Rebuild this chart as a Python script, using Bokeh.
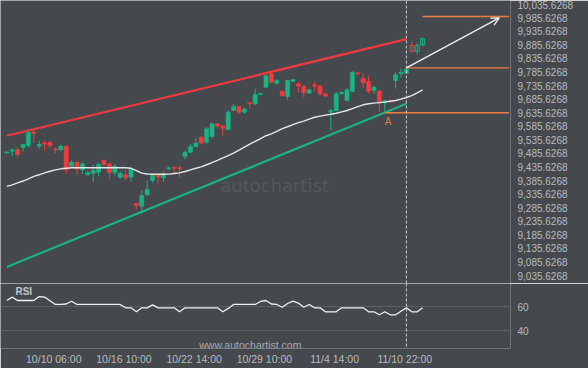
from bokeh.plotting import figure
from bokeh.layouts import column
from bokeh.models import (Range1d, FixedTicker, NumeralTickFormatter, Span,
                          Arrow, OpenHead, Label, ColumnDataSource)
from bokeh.embed import file_html
from bokeh.resources import INLINE

# ---------------- data ----------------
open_ = [9487.3, 9493.9, 9500.2, 9507.6, 9514.9, 9564.7, 9512.4, 9524.1, 9527.1, 9502.0,
         9499.1, 9512.4, 9438.6, 9453.4, 9425.4, 9406.9, 9412.8, 9416.5, 9459.6, 9447.5,
         9414.3, 9398.1, 9408.0, 9398.1, 9302.2, 9291.2, 9333.2, 9385.9, 9406.9, 9395.9,
         9429.0, 9434.9, 9432.7, 9474.4, 9490.2, 9511.2, 9545.5, 9527.1, 9548.1, 9594.9,
         9587.5, 9573.9, 9643.9, 9658.7, 9637.7, 9672.3, 9668.6, 9704.0, 9729.8, 9779.2,
         9744.6, 9713.9, 9695.5, 9751.9, 9742.4, 9733.5, 9707.7, 9738.7, 9733.5, 9705.5,
         9637.7, 9643.9, 9705.5, 9680.8, 9713.9, 9782.9, 9763.0, 9750.8, 9717.7, 9715.8,
         9674.5, 9679.7, 9754.5, 9779.2, 9781.4, 9883.5, 9862.5, 9886.1]
high = [9492.8, 9503.9, 9507.6, 9518.6, 9566.5, 9572.8, 9533.4, 9533.4, 9530.8, 9508.7,
        9518.6, 9514.9, 9459.6, 9455.9, 9452.3, 9422.8, 9444.9, 9451.2, 9465.9, 9448.6,
        9447.5, 9419.1, 9426.5, 9434.9, 9303.7, 9349.1, 9385.9, 9410.6, 9408.0, 9419.1,
        9438.6, 9436.0, 9441.2, 9496.5, 9521.2, 9541.8, 9549.2, 9582.4, 9599.7, 9596.0,
        9588.7, 9643.9, 9668.6, 9659.5, 9653.9, 9674.5, 9723.9, 9709.2, 9776.6, 9785.1,
        9760.8, 9720.2, 9757.1, 9760.8, 9748.3, 9736.1, 9725.0, 9748.3, 9737.9, 9706.6,
        9651.3, 9711.4, 9713.9, 9726.1, 9788.8, 9784.0, 9780.3, 9772.9, 9736.1, 9719.5,
        9682.6, 9684.5, 9785.1, 9797.6, 9801.3, 9898.3, 9892.0, 9913.0]
low = [9485.4, 9474.4, 9470.7, 9492.8, 9507.6, 9523.4, 9502.8, 9496.5, 9503.9, 9486.5,
       9492.8, 9410.6, 9433.8, 9408.0, 9410.6, 9404.4, 9382.2, 9400.7, 9438.6, 9388.5,
       9404.4, 9392.2, 9385.9, 9382.2, 9279.0, 9269.8, 9330.6, 9378.5, 9370.1, 9382.2,
       9422.8, 9412.8, 9398.1, 9463.3, 9488.0, 9508.7, 9518.6, 9521.2, 9540.7, 9577.6,
       9551.8, 9570.2, 9641.4, 9629.2, 9631.8, 9650.2, 9662.4, 9699.2, 9727.6, 9744.6,
       9739.8, 9695.5, 9683.4, 9748.3, 9710.3, 9693.7, 9705.5, 9713.9, 9697.4, 9693.0,
       9570.2, 9641.4, 9702.9, 9678.2, 9711.4, 9772.9, 9727.6, 9706.6, 9705.5, 9638.4,
       9635.6, 9673.4, 9725.0, 9765.6, 9779.2, 9857.7, 9850.4, 9879.8]
close = [9491.0, 9499.1, 9481.8, 9518.6, 9562.6, 9559.2, 9518.6, 9520.5, 9513.8, 9498.3,
         9512.4, 9425.4, 9453.4, 9429.0, 9447.5, 9414.3, 9422.8, 9444.9, 9444.9, 9414.3,
         9438.6, 9412.8, 9395.9, 9426.5, 9293.8, 9330.6, 9352.7, 9404.4, 9398.1, 9410.6,
         9432.7, 9431.3, 9429.0, 9490.2, 9511.2, 9523.4, 9523.4, 9576.5, 9594.9, 9586.1,
         9578.7, 9637.7, 9658.7, 9637.7, 9648.7, 9668.6, 9702.9, 9707.7, 9772.9, 9748.3,
         9754.5, 9698.1, 9754.5, 9758.2, 9733.5, 9709.2, 9720.2, 9733.5, 9705.5, 9696.6,
         9643.9, 9705.5, 9711.4, 9720.2, 9785.1, 9779.2, 9746.0, 9715.1, 9729.8, 9677.1,
         9680.8, 9676.0, 9775.5, 9785.1, 9797.6, 9862.5, 9883.5, 9908.2]
moving_avg = [9364, 9370, 9377, 9384, 9392, 9401, 9407, 9414, 9420, 9425,
              9429, 9431, 9433, 9433, 9433, 9433, 9433, 9433, 9433, 9433,
              9433, 9433, 9433, 9431, 9422, 9413, 9410, 9409, 9409, 9409,
              9409.5, 9411.5, 9414, 9419, 9425, 9431, 9436, 9444, 9452, 9460,
              9469, 9478, 9487, 9498, 9509, 9520, 9530, 9540, 9551, 9558,
              9567, 9577, 9584, 9592, 9599, 9605, 9612, 9619, 9623, 9627,
              9630, 9634, 9639, 9644, 9651, 9658, 9665, 9669, 9671, 9673,
              9675, 9678, 9681, 9686, 9692, 9699, 9709, 9720]
rsi = [65.0, 67.8, 65.0, 65.0, 65.0, 65.0, 68.3, 67.9, 64.8, 61.7,
       61.7, 62.1, 64.4, 61.7, 61.7, 61.7, 61.7, 61.7, 61.7, 61.7,
       61.7, 61.7, 58.9, 58.9, 55.6, 58.9, 58.9, 61.4, 58.9, 58.9,
       58.9, 58.9, 55.6, 58.9, 58.9, 58.9, 58.9, 58.9, 58.9, 58.9,
       55.6, 58.4, 61.7, 61.7, 61.7, 61.7, 61.7, 64.2, 65.0, 62.1,
       61.7, 59.4, 62.5, 64.4, 62.9, 59.4, 61.7, 58.9, 58.9, 55.6,
       55.6, 55.6, 58.9, 58.9, 58.9, 58.9, 58.9, 55.6, 55.6, 53.1,
       55.6, 53.1, 53.1, 56.0, 58.9, 55.6, 55.6, 58.9]
n_closed = 75                      # candles up to the breakout; the rest are drawn hollow

channel_index = [0, 74]
channel_upper = [9551.0, 9906.8]
channel_lower = [9067.4, 9668.6]

level_price = [9990.4, 9801.3, 9635.6]
level_start = [77, 74, 70]
level_end = 93

forecast_index = [74, 91.2]
forecast_price = [9801.3, 9985.6]

point_a_index = 70
point_a_price = 9635.6

price_ticks = [9035.6268 + 50 * k for k in range(21)]
rsi_ticks = [40, 60]
tick_index = [8.7, 21.7, 34.7, 47.7, 60.7, 73.7]
tick_labels = ["10/10 06:00", "10/16 10:00", "10/22 14:00", "10/29 10:00",
               "11/4 14:00", "11/10 22:00"]

# ---------------- styles ----------------
BG = "#45484d"
UP = "#1bb383"
DOWN = "#f23b3e"
ORANGE = "#ef7b3e"
LABEL = "#babcbf"
FONT = "Liberation Sans"

idx = list(range(len(close)))
colors = [UP if c >= o else DOWN for o, c in zip(open_, close)]
tops = [max(o, c) for o, c in zip(open_, close)]
bots = [min(o, c) for o, c in zip(open_, close)]

def part(sl):
    return ColumnDataSource(dict(x=idx[sl], top=tops[sl], bottom=bots[sl],
                                 high=high[sl], low=low[sl], color=colors[sl]))

src_closed = part(slice(0, n_closed))
src_future = part(slice(n_closed, None))

xr = Range1d(-1.1667, 93.278)


def style_axis(ax, size):
    ax.axis_line_color = None
    ax.major_tick_line_color = None
    ax.minor_tick_line_color = None
    ax.major_tick_out = 0
    ax.major_tick_in = 0
    ax.major_label_text_color = LABEL
    ax.major_label_text_font = FONT
    ax.major_label_text_font_size = size


def base(height, yr, bottom):
    p = figure(width=588, height=height, x_range=xr, y_range=yr,
               output_backend="svg", toolbar_location=None,
               y_axis_location="right", x_axis_location="below" if bottom else None,
               min_border_left=0, min_border_right=78, min_border_top=0,
               min_border_bottom=20 if bottom else 0)
    p.background_fill_color = BG
    p.border_fill_color = BG
    p.outline_line_color = None
    p.xgrid.visible = False
    return p


# ---------------- price panel ----------------
p1 = base(283, Range1d(9006.3, 10049.4), False)
p1.ygrid.visible = False
style_axis(p1.yaxis[0], "10px")
p1.yaxis.ticker = FixedTicker(ticks=price_ticks)
p1.yaxis.formatter = NumeralTickFormatter(format="0,0.0000")
p1.yaxis.major_label_standoff = 7

p1.add_layout(Label(x=49.6, y=9369.3, text="autochartist", text_align="center",
                    text_baseline="middle", text_font="DejaVu Sans",
                    text_font_size="18px", text_color="#55585d"))

p1.line(channel_index, channel_upper, line_color="#ee3a3f", line_width=2.2)
p1.line(channel_index, channel_lower, line_color="#1ab27f", line_width=2.2)

p1.segment(x0="x", y0="low", x1="x", y1="high", line_color="color", line_width=1,
           source=src_closed)
p1.vbar(x="x", width=0.78, top="top", bottom="bottom", fill_color="color",
        line_color="color", line_width=0.5, source=src_closed)
p1.segment(x0="x", y0="low", x1="x", y1="high", line_color="color", line_width=1,
           source=src_future)
p1.vbar(x="x", width=0.78, top="top", bottom="bottom", fill_color=None,
        line_color="color", line_width=1, source=src_future)

p1.line(idx, moving_avg, line_color="#e6e6e6", line_width=1.4)

p1.segment(x0=level_start, y0=level_price, x1=[level_end] * len(level_price),
           y1=level_price, line_color=ORANGE, line_width=1.3)

p1.add_layout(Arrow(end=OpenHead(size=8, line_color="#f0f0f0", line_width=1.3),
                    x_start=forecast_index[0], y_start=forecast_price[0],
                    x_end=forecast_index[1], y_end=forecast_price[1],
                    line_color="#f0f0f0", line_width=1.3))

p1.add_layout(Label(x=point_a_index, y=point_a_price, text="A", text_align="left",
                    text_baseline="top", y_offset=-3, text_font=FONT,
                    text_font_size="10px", text_color="#dc834b"))

p1.add_layout(Span(location=forecast_index[0], dimension="height",
                   line_color="#cfd1d4", line_dash="3 2", line_width=1))

# ---------------- RSI panel ----------------
p2 = base(85, Range1d(25, 79.17), True)
p2.ygrid.ticker = FixedTicker(ticks=rsi_ticks)
p2.ygrid.grid_line_color = "#5c5f63"
p2.ygrid.grid_line_width = 1
style_axis(p2.yaxis[0], "10px")
p2.yaxis.ticker = FixedTicker(ticks=rsi_ticks)
p2.yaxis.major_label_standoff = 7
style_axis(p2.xaxis[0], "10.5px")
p2.xaxis.ticker = FixedTicker(ticks=tick_index)
p2.xaxis.major_label_overrides = dict(zip(tick_index, tick_labels))
p2.xaxis.major_label_standoff = 4

p2.line(idx, rsi, line_color="#f2f2f2", line_width=1.3)
p2.add_layout(Span(location=forecast_index[0], dimension="height",
                   line_color="#cfd1d4", line_dash="3 2", line_width=1))
p2.add_layout(Label(x=1.6, y=72.5, text="RSI", text_align="left", text_baseline="middle",
                    text_font=FONT, text_font_style="bold", text_font_size="10px",
                    text_color="#c4c6c9"))
p2.add_layout(Label(x=45.1, y=27.75, text="www.autochartist.com", text_align="center",
                    text_baseline="middle", text_font=FONT, text_font_size="10.5px",
                    text_color="#a7a9ac"))

layout = column(p1, p2, spacing=0,
                styles={"position": "absolute", "left": "0px", "top": "0px"})

open("out.html", "w").write(file_html(layout, INLINE))
